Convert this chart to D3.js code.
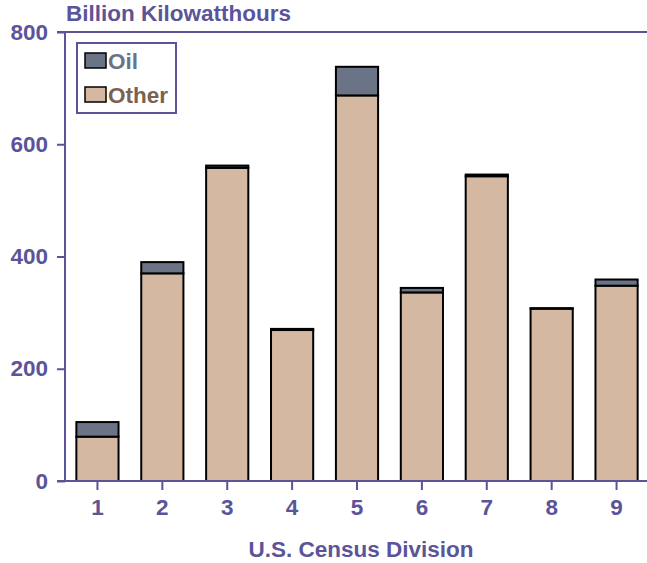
<!DOCTYPE html>
<html>
<head>
<meta charset="utf-8">
<script src="https://cdn.jsdelivr.net/npm/d3@7"></script>
<style>
  body { margin: 0; background: #fff; }
  text { font-family: "Liberation Sans", Arial, sans-serif; font-weight: bold; }
</style>
</head>
<body>
<div id="chart"></div>
<script>
// Chart data (billion kWh)
const divisions = ["1", "2", "3", "4", "5", "6", "7", "8", "9"];
const otherValues = [79, 370, 558, 269, 687, 336, 543, 307, 348];
const oilValues = [26, 20, 4, 2, 51, 8, 3, 1, 11];
const yTicks = [0, 200, 400, 600, 800];

const axisColor = "#5b5499";
const oilColor = "#6b7386";
const otherColor = "#d4b8a2";
const fontSize = 22.5;

const fullWidth = 647, fullHeight = 563;
const margin = { top: 32, right: 0, bottom: 82, left: 65 };
const width = fullWidth - margin.left - margin.right;
const height = fullHeight - margin.top - margin.bottom;

const svg = d3.select("#chart").append("svg")
  .attr("width", fullWidth)
  .attr("height", fullHeight);

const g = svg.append("g")
  .attr("transform", `translate(${margin.left},${margin.top})`);

// Scales
const x = d3.scaleBand()
  .domain(divisions)
  .range([0, 584])
  .paddingInner(0.35)
  .paddingOuter(0.175);

const y = d3.scaleLinear()
  .domain([0, 800])
  .range([height, 0]);

// Stack the two series
const rows = divisions.map((d, i) => ({ div: d, Other: otherValues[i], Oil: oilValues[i] }));
const series = d3.stack().keys(["Other", "Oil"])(rows);
const colors = { Other: otherColor, Oil: oilColor };

g.selectAll("g.layer")
  .data(series)
  .enter()
  .append("g")
  .attr("class", "layer")
  .attr("fill", d => colors[d.key])
  .selectAll("rect")
  .data(d => d)
  .enter()
  .append("rect")
  .attr("x", d => x(d.data.div))
  .attr("width", x.bandwidth())
  .attr("y", d => y(d[1]))
  .attr("height", d => y(d[0]) - y(d[1]))
  .attr("stroke", "#000")
  .attr("stroke-width", 2);

// Y axis
const yAxis = d3.axisLeft(y).tickValues(yTicks).tickSize(8).tickPadding(9);
const yg = g.append("g").call(yAxis);
yg.select(".domain").attr("stroke", axisColor).attr("stroke-width", 2)
  .attr("d", `M0,${height}V0`);
yg.selectAll(".tick line").attr("stroke", axisColor).attr("stroke-width", 2);
yg.selectAll(".tick text").attr("fill", axisColor).attr("font-size", fontSize)
  .attr("font-weight", "bold").attr("font-family", "Liberation Sans, Arial, sans-serif");

// Top frame line
g.append("line")
  .attr("x1", -8).attr("x2", width)
  .attr("y1", y(800)).attr("y2", y(800))
  .attr("stroke", axisColor).attr("stroke-width", 2);

// X axis
const xAxis = d3.axisBottom(x).tickSize(9).tickPadding(9);
const xg = g.append("g").attr("transform", `translate(0,${height})`).call(xAxis);
xg.select(".domain").attr("stroke", axisColor).attr("stroke-width", 2)
  .attr("d", `M-8,0H${width}`);
xg.selectAll(".tick line").attr("stroke", axisColor).attr("stroke-width", 2);
xg.selectAll(".tick text").attr("fill", axisColor).attr("font-size", fontSize)
  .attr("font-weight", "bold").attr("font-family", "Liberation Sans, Arial, sans-serif");

// Titles
svg.append("text")
  .attr("x", 66).attr("y", 21)
  .attr("fill", axisColor).attr("font-size", fontSize)
  .text("Billion Kilowatthours");

svg.append("text")
  .attr("x", 361).attr("y", 557)
  .attr("text-anchor", "middle")
  .attr("fill", axisColor).attr("font-size", fontSize)
  .text("U.S. Census Division");

// Legend
const legend = svg.append("g");
legend.append("rect")
  .attr("x", 77).attr("y", 43).attr("width", 99).attr("height", 70)
  .attr("fill", "#fff").attr("stroke", axisColor).attr("stroke-width", 2);

const legendItems = [
  { label: "Oil", fill: oilColor, text: "#6b7386" },
  { label: "Other", fill: otherColor, text: "#7a6252" }
];
legendItems.forEach((d, i) => {
  const yy = 53 + i * 34;
  legend.append("rect")
    .attr("x", 85).attr("y", yy).attr("width", 21).attr("height", 15)
    .attr("fill", d.fill).attr("stroke", "#000").attr("stroke-width", 1.5);
  legend.append("text")
    .attr("x", 108).attr("y", yy + 16)
    .attr("fill", d.text).attr("font-size", fontSize)
    .text(d.label);
});
</script>
</body>
</html>
